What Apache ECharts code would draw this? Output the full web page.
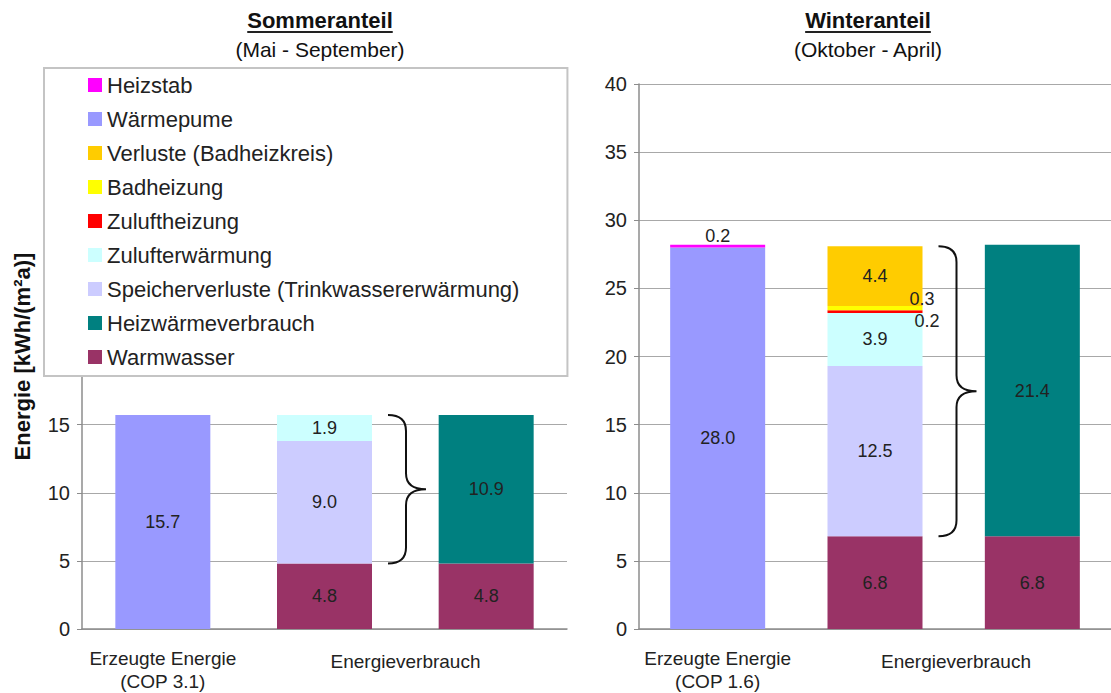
<!DOCTYPE html>
<html><head><meta charset="utf-8">
<script src="https://cdn.jsdelivr.net/npm/echarts@6/dist/echarts.min.js"></script>
<style>html,body{margin:0;padding:0;background:#fff}#c{width:1111px;height:693px}</style>
</head><body><div id="c"></div>
<script>
// ---------- data ----------
const categoriesSummer = ['Erzeugte Energie\n(COP 3.1)', 'Energieverbrauch', ''];
const categoriesWinter = ['Erzeugte Energie\n(COP 1.6)', 'Energieverbrauch', ''];
const yMin = 0, yMax = 40, yInterval = 5;
const legendOrder = ['Heizstab', 'Wärmepume', 'Verluste (Badheizkreis)', 'Badheizung', 'Zuluftheizung',
  'Zulufterwärmung', 'Speicherverluste (Trinkwassererwärmung)', 'Heizwärmeverbrauch', 'Warmwasser'];
// stacking order, bottom to top
const stackOrder = ['Warmwasser', 'Wärmepume', 'Speicherverluste (Trinkwassererwärmung)', 'Heizwärmeverbrauch',
  'Zulufterwärmung', 'Zuluftheizung', 'Badheizung', 'Verluste (Badheizkreis)', 'Heizstab'];

// Sommeranteil values per category [Erzeugte, Verbrauch 1, Verbrauch 2]
const summerWarmwasser   = [null, 4.8, 4.8];
const summerWaermepumpe  = [15.7, null, null];
const summerSpeicher     = [null, 9.0, null];
const summerHeizwaerme   = [null, null, 10.9];
const summerZulufterw    = [null, 1.9, null];
const summerZuluftheiz   = [null, null, null];
const summerBadheiz      = [null, null, null];
const summerVerluste     = [null, null, null];
const summerHeizstab     = [null, null, null];

// Winteranteil values
const winterWarmwasser   = [null, 6.8, 6.8];
const winterWaermepumpe  = [28.0, null, null];
const winterSpeicher     = [null, 12.5, null];
const winterHeizwaerme   = [null, null, 21.4];
const winterZulufterw    = [null, 3.9, null];
const winterZuluftheiz   = [null, 0.2, null];
const winterBadheiz      = [null, 0.3, null];
const winterVerluste     = [null, 4.4, null];
const winterHeizstab     = [0.2, null, null];

// ---------- styling ----------
const FONT = '"Liberation Sans", Arial, sans-serif';
const colors = {
  'Heizstab': '#FF00FF', 'Wärmepume': '#9999FF', 'Verluste (Badheizkreis)': '#FFCC00',
  'Badheizung': '#FFFF00', 'Zuluftheizung': '#FF0000', 'Zulufterwärmung': '#CCFFFF',
  'Speicherverluste (Trinkwassererwärmung)': '#CCCCFF', 'Heizwärmeverbrauch': '#008080', 'Warmwasser': '#993366'
};
const summer = {
  'Warmwasser': summerWarmwasser, 'Wärmepume': summerWaermepumpe,
  'Speicherverluste (Trinkwassererwärmung)': summerSpeicher, 'Heizwärmeverbrauch': summerHeizwaerme,
  'Zulufterwärmung': summerZulufterw, 'Zuluftheizung': summerZuluftheiz, 'Badheizung': summerBadheiz,
  'Verluste (Badheizkreis)': summerVerluste, 'Heizstab': summerHeizstab
};
const winter = {
  'Warmwasser': winterWarmwasser, 'Wärmepume': winterWaermepumpe,
  'Speicherverluste (Trinkwassererwärmung)': winterSpeicher, 'Heizwärmeverbrauch': winterHeizwaerme,
  'Zulufterwärmung': winterZulufterw, 'Zuluftheizung': winterZuluftheiz, 'Badheizung': winterBadheiz,
  'Verluste (Badheizkreis)': winterVerluste, 'Heizstab': winterHeizstab
};
const BAR_W = 95;
const labelBase = { show: true, fontSize: 18, color: '#222', fontFamily: FONT,
  formatter: p => (p.value == null ? '' : Number(p.value).toFixed(1)) };
const specialLabels = {
  'Heizstab': { position: 'top', distance: 0 },
  'Zuluftheizung': { position: 'right', distance: 0, offset: [-8, 9] },
  'Badheizung': { position: 'right', distance: 0, offset: [-13, -9] }
};

const series = [];
[summer, winter].forEach((panel, pi) => {
  stackOrder.forEach(name => {
    series.push({
      type: 'bar', name, data: panel[name], xAxisIndex: pi, yAxisIndex: pi,
      stack: 'panel' + pi, barWidth: BAR_W,
      itemStyle: { color: colors[name] },
      label: Object.assign({}, labelBase, { position: 'inside' }, specialLabels[name] || {})
    });
  });
  // brace spanning the energy-use items above Warmwasser in the middle bar
  const lo = panel['Warmwasser'][1];
  const hi = stackOrder.reduce((s, n) => s + (panel[n][1] || 0), 0);
  series.push({
    type: 'custom', name: 'brace' + pi, xAxisIndex: pi, yAxisIndex: pi, silent: true, z: 5,
    data: [[1, lo, hi]], encode: { x: 0, y: [1, 2] },
    renderItem: (params, api) => {
      const t = api.coord([api.value(0), api.value(2)]);
      const b = api.coord([api.value(0), api.value(1)]);
      const x0 = t[0] + BAR_W / 2 + 16, xs = x0 + 18, xt = x0 + 38;
      const yt = t[1], yb = b[1], ym = (yt + yb) / 2, r = 16;
      const d = `M${x0},${yt} Q${xs},${yt} ${xs},${yt + r} L${xs},${ym - r} Q${xs},${ym} ${xt},${ym} ` +
                `Q${xs},${ym} ${xs},${ym + r} L${xs},${yb - r} Q${xs},${yb} ${x0},${yb}`;
      return { type: 'path', shape: { pathData: d }, style: { fill: 'none', stroke: '#111', lineWidth: 2 } };
    }
  });
});

function xAxis(cats, gi) {
  return {
    type: 'category', gridIndex: gi, data: cats,
    axisLine: { lineStyle: { color: '#8c8c8c', width: 1.5 } },
    axisTick: { show: false },
    axisLabel: {
      interval: 0, fontSize: 19, lineHeight: 23, margin: 18, color: '#222', fontFamily: FONT,
      formatter: (v, i) => (i === 1 ? '{e|' + v + '}' : v),
      rich: { e: { fontSize: 19, lineHeight: 23, color: '#222', fontFamily: FONT, padding: [6, 0, 0, 162] } }
    }
  };
}
function yAxis(gi, withName) {
  const a = {
    type: 'value', gridIndex: gi, min: yMin, max: yMax, interval: yInterval,
    axisLine: { show: true, lineStyle: { color: '#8c8c8c', width: 1.5 } },
    axisTick: { show: true, length: 5, lineStyle: { color: '#8c8c8c' } },
    splitLine: { lineStyle: { color: '#a8a8a8', width: 1 } },
    axisLabel: { fontSize: 20, color: '#222', margin: 12, fontFamily: FONT }
  };
  if (withName) {
    Object.assign(a, { name: 'Energie [kWh/(m²a)]', nameLocation: 'middle', nameGap: 49,
      nameTextStyle: { fontSize: 22, fontWeight: 'bold', color: '#111', fontFamily: FONT } });
  }
  return a;
}

// titles with underline
const mctx = document.createElement('canvas').getContext('2d');
mctx.font = 'bold 22px "Liberation Sans", Arial, sans-serif';
function titleGraphics(cx, title, sub) {
  const w = mctx.measureText(title).width;
  return [
    { type: 'text', x: cx, y: 20, style: { text: title, fill: '#111', font: 'bold 22px ' + FONT, textAlign: 'center', textVerticalAlign: 'middle' } },
    { type: 'rect', shape: { x: cx - w / 2, y: 31, width: w, height: 2 }, style: { fill: '#222' } },
    { type: 'text', x: cx, y: 49, style: { text: sub, fill: '#111', font: '21px ' + FONT, textAlign: 'center', textVerticalAlign: 'middle' } }
  ];
}

const chart = echarts.init(document.getElementById('c'), null, { renderer: 'svg' });
chart.setOption({
  animation: false,
  backgroundColor: '#fff',
  textStyle: { fontFamily: FONT },
  grid: [
    { left: 82, top: 84, width: 485, bottom: 63 },
    { left: 639, top: 84, width: 480, bottom: 63 }
  ],
  xAxis: [xAxis(categoriesSummer, 0), xAxis(categoriesWinter, 1)],
  yAxis: [yAxis(0, true), yAxis(1, false)],
  legend: {
    data: legendOrder, orient: 'vertical', left: 44, top: 68,
    padding: [6, 48, 8, 44], itemWidth: 14, itemHeight: 14, itemGap: 12, icon: 'rect',
    textStyle: { fontSize: 22, lineHeight: 22, color: '#222', fontFamily: FONT },
    backgroundColor: '#fff', borderColor: '#c4c4c4', borderWidth: 2, selectedMode: false
  },
  graphic: [].concat(
    titleGraphics(320, 'Sommeranteil', '(Mai - September)'),
    titleGraphics(868, 'Winteranteil', '(Oktober - April)')
  ),
  series
});
</script></body></html>
